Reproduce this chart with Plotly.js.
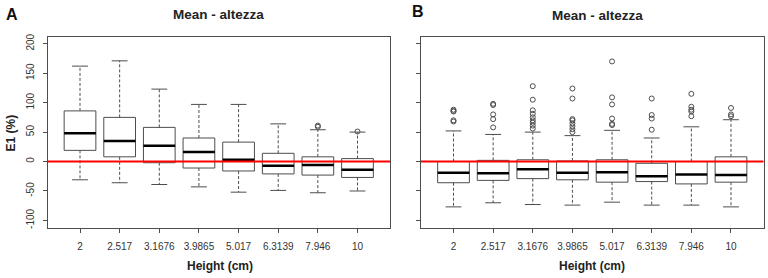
<!DOCTYPE html>
<html>
<head>
<meta charset="utf-8">
<script src="https://cdn.plot.ly/plotly-3.0.1.min.js"></script>
<style>
  html, body { margin: 0; padding: 0; background: #ffffff; }
  #chart { width: 768px; height: 278px; }
</style>
</head>
<body>
<div id="chart"></div>
<script>
// ---- data ----
const categories = ['2', '2.517', '3.1676', '3.9865', '5.017', '6.3139', '7.946', '10'];

// Panel A
const lowA = [-31, -36, -39, -43, -52, -49, -53, -50];
const q1A  = [19, 8, -2, -11, -16, -21, -23, -27];
const medA = [48, 35, 27, 16, 3, -7, -6, -14];
const q3A  = [86, 75, 58, 40, 33, 14, 8, 5];
const upA  = [162, 171, 123, 97, 97, 64, 54, 50];
const outA = [[], [], [], [], [], [], [61, 59], [51]];

// Panel B
const lowB = [-77, -70, -73, -74, -69, -74, -74, -77];
const q1B  = [-36, -32, -29, -31, -35, -34, -38, -35];
const medB = [-19, -20, -13, -19, -18, -25, -22, -23];
const q3B  = [0, 2, 3, 1, 3, -3, 0, 8];
const upB  = [52, 46, 50, 44, 53, 40, 59, 71];
const outB = [
  [88, 86, 85, 70, 68],
  [98, 96, 80, 72, 58],
  [128, 105, 87, 81, 75, 70, 66, 61, 56],
  [124, 107, 72, 70, 65, 60, 55, 50],
  [170, 109, 97, 73, 64, 62],
  [107, 79, 73, 54],
  [115, 93, 88, 85, 77],
  [91, 80, 77]
];

const yTicks = [-100, -50, 0, 50, 100, 150, 200];

// ---- build traces ----
const pos = categories.map((c, i) => i + 1);
const BOXW = 0.8, CAPW = 0.4;
const boxColor = '#4d4d4d';

function panel(low, q1, med, q3, up, outs, xa, ya) {
  const traces = [];
  // whiskers (dashed)
  const wx = [], wy = [];
  pos.forEach((p, i) => {
    wx.push(p, p, null, p, p, null);
    wy.push(q3[i], up[i], null, q1[i], low[i], null);
  });
  traces.push({type: 'scatter', mode: 'lines', x: wx, y: wy, xaxis: xa, yaxis: ya,
    line: {color: boxColor, width: 1, dash: '3px,2px'}, hoverinfo: 'skip', showlegend: false});
  // caps
  const cx = [], cy = [];
  pos.forEach((p, i) => {
    cx.push(p - CAPW / 2, p + CAPW / 2, null, p - CAPW / 2, p + CAPW / 2, null);
    cy.push(up[i], up[i], null, low[i], low[i], null);
  });
  traces.push({type: 'scatter', mode: 'lines', x: cx, y: cy, xaxis: xa, yaxis: ya,
    line: {color: boxColor, width: 1}, hoverinfo: 'skip', showlegend: false});
  // boxes
  traces.push({type: 'box', orientation: 'v', x: pos, q1: q1, median: med, q3: q3,
    lowerfence: q1, upperfence: q3, width: BOXW, whiskerwidth: 0,
    fillcolor: 'rgba(255,255,255,0)', line: {color: boxColor, width: 1},
    boxpoints: false, xaxis: xa, yaxis: ya, hoverinfo: 'skip', showlegend: false});
  // thick medians
  const mx = [], my = [];
  pos.forEach((p, i) => {
    mx.push(p - BOXW / 2, p + BOXW / 2, null);
    my.push(med[i], med[i], null);
  });
  traces.push({type: 'scatter', mode: 'lines', x: mx, y: my, xaxis: xa, yaxis: ya,
    line: {color: '#000000', width: 2.5}, hoverinfo: 'skip', showlegend: false});
  // outliers
  const ox = [], oy = [];
  outs.forEach((arr, i) => arr.forEach(v => { ox.push(pos[i]); oy.push(v); }));
  traces.push({type: 'scatter', mode: 'markers', x: ox, y: oy, xaxis: xa, yaxis: ya,
    marker: {symbol: 'circle-open', size: 5, color: boxColor, line: {width: 1, color: boxColor}},
    hoverinfo: 'skip', showlegend: false});
  return traces;
}

const data = [].concat(
  panel(lowA, q1A, medA, q3A, upA, outA, 'x', 'y'),
  panel(lowB, q1B, medB, q3B, upB, outB, 'x2', 'y2')
);

const W = 768, H = 278;
const font = 'Liberation Sans, Arial, Helvetica, sans-serif';
const tickFont = {family: font, size: 10, color: '#333333'};

function xAxis(domain, anchor) {
  return {domain: domain, anchor: anchor, range: [0.18, 8.82],
    tickmode: 'array', tickvals: pos, ticktext: categories,
    ticks: 'outside', ticklen: 4, tickcolor: boxColor, tickwidth: 1,
    showline: true, mirror: true, linecolor: boxColor, linewidth: 1,
    showgrid: false, zeroline: false, tickfont: tickFont, ticklabelstandoff: 5,
    fixedrange: true};
}
function yAxis(anchor, labels) {
  return {domain: [1 - 227.5 / H, 1 - 36.7 / H], anchor: anchor, range: [-112, 212],
    tickmode: 'array', tickvals: yTicks, ticktext: yTicks.map(String),
    showticklabels: labels, tickangle: -90,
    ticks: 'outside', ticklen: 4, tickcolor: boxColor, tickwidth: 1,
    showline: true, mirror: true, linecolor: boxColor, linewidth: 1,
    showgrid: false, zeroline: false, tickfont: tickFont, ticklabelstandoff: 5,
    fixedrange: true};
}

const mainFont = {family: font, size: 13.5, color: '#222222'};
const labFont = {family: font, size: 12, color: '#222222'};
function ann(text, xpx, ypx, f, extra) {
  return Object.assign({text: text, xref: 'paper', yref: 'paper', x: xpx / W, y: 1 - ypx / H,
    xanchor: 'center', yanchor: 'middle', showarrow: false, font: f}, extra || {});
}

const layout = {
  width: W, height: H,
  margin: {l: 0, r: 0, t: 0, b: 0},
  paper_bgcolor: '#ffffff', plot_bgcolor: '#ffffff',
  showlegend: false,
  xaxis: xAxis([47.5 / W, 390 / W], 'y'),
  yaxis: yAxis('x', true),
  xaxis2: xAxis([421 / W, 763.5 / W], 'y2'),
  yaxis2: yAxis('x2', false),
  shapes: [
    {type: 'line', xref: 'x domain', yref: 'y', x0: 0, x1: 1, y0: 0, y1: 0,
      line: {color: '#ff0000', width: 2}},
    {type: 'line', xref: 'x2 domain', yref: 'y2', x0: 0, x1: 1, y0: 0, y1: 0,
      line: {color: '#ff0000', width: 2}}
  ],
  annotations: [
    ann('<b>A</b>', 11.5, 14, {family: font, size: 16, color: '#111111'}),
    ann('<b>B</b>', 418, 12, {family: font, size: 16, color: '#111111'}),
    ann('<b>Mean - altezza</b>', 218.5, 14.5, mainFont),
    ann('<b>Mean - altezza</b>', 597.5, 15, mainFont),
    ann('<b>Height (cm)</b>', 220, 265.5, labFont),
    ann('<b>Height (cm)</b>', 592, 265.5, labFont),
    ann('<b>E1 (%)</b>', 10.5, 133, labFont, {textangle: -90})
  ]
};

Plotly.newPlot('chart', data, layout, {staticPlot: true, displayModeBar: false});
</script>
</body>
</html>
